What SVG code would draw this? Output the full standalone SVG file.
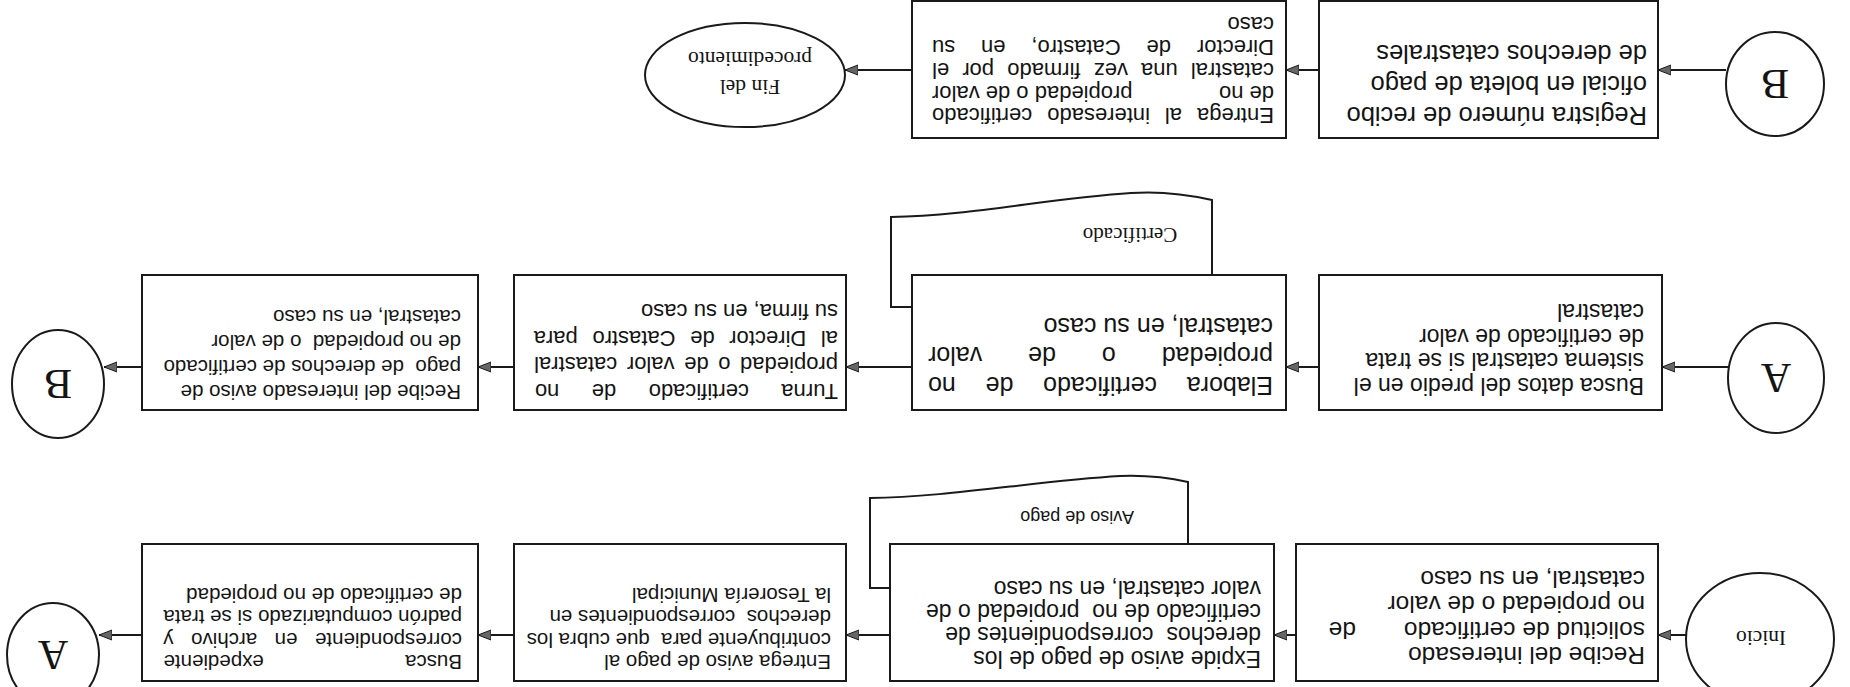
<svg xmlns="http://www.w3.org/2000/svg" width="1850" height="687" viewBox="0 0 1850 687">
<style>
.box{fill:#fff;stroke:#1a1a1a;stroke-width:2}
.doc{fill:#fff;stroke:#1a1a1a;stroke-width:2}
.term{fill:#fff;stroke:#1a1a1a;stroke-width:2}
.conn{stroke:#1a1a1a;stroke-width:2;fill:none;marker-end:url(#arr)}
.ts{font-family:"Liberation Sans",Arial,sans-serif;fill:#141414}
.tr{font-family:"Liberation Serif","Times New Roman",serif;fill:#141414}
.f20{font-size:20.5px}.f22{font-size:22px}.f23{font-size:23px}.f24{font-size:24.5px}.f25{font-size:25.5px}.f26{font-size:25px}
.lt{font-size:42px;text-anchor:middle}
.et{font-size:21.5px;text-anchor:middle}
</style>
<defs>
<marker id="arr" markerUnits="userSpaceOnUse" markerWidth="14" markerHeight="12" refX="13" refY="6" orient="auto">
<path d="M0,1 L13,6 L0,11 Z" fill="#666" stroke="#1a1a1a" stroke-width="1"/>
</marker>
</defs>
<rect width="1850" height="687" fill="#fff"/>
<g transform="rotate(180 925 343.5)">
<g id="connectors">
<line class="conn" x1="124" y1="617" x2="192" y2="617"/>
<line class="conn" x1="531" y1="617" x2="564" y2="617"/>
<line class="conn" x1="938" y1="617" x2="1005" y2="617"/>
<line class="conn" x1="122" y1="320" x2="188" y2="320"/>
<line class="conn" x1="531" y1="320" x2="564" y2="320"/>
<line class="conn" x1="938" y1="320" x2="1004" y2="320"/>
<line class="conn" x1="1336" y1="320" x2="1372" y2="320"/>
<line class="conn" x1="1708" y1="320" x2="1746" y2="320"/>
<line class="conn" x1="164" y1="52" x2="192" y2="52"/>
<line class="conn" x1="554" y1="52" x2="576" y2="52"/>
<line class="conn" x1="960" y1="52" x2="1004" y2="52"/>
<line class="conn" x1="1336" y1="52" x2="1372" y2="52"/>
<line class="conn" x1="1708" y1="52" x2="1751" y2="52"/>
</g>

<g id="inicio">
<ellipse class="term" cx="90" cy="48" rx="74" ry="66"/>
<text class="tr et" x="89" y="56">Inicio</text>
</g>

<g id="recibe-solicitud">
<rect class="box" x="192" y="6" width="362" height="137"/>
<text class="ts f24" x="205" y="40">Recibe del interesado</text>
<text class="ts f24" x="205" y="65.5">solicitud de certificado</text>
<text class="ts f24" x="494" y="65.5">de</text>
<text class="ts f24" x="205" y="91">no propiedad o de valor</text>
<text class="ts f24" x="205" y="116.5">catastral, en su caso</text>
</g>

<g id="aviso-pago-doc">
<path class="doc" d="M662,99 L662,205 C684,210 705,212 730,211 C815,206 900,190 980,189 L980,99 Z"/>
<text class="ts" x="716" y="176" font-size="18">Aviso de pago</text>
</g>

<g id="expide">
<rect class="box" x="576" y="6" width="384" height="137"/>
<text class="ts f23" x="589" y="36" xml:space="preserve">Expide aviso de pago de los</text>
<text class="ts f23" x="589" y="60" xml:space="preserve">derechos  correspondientes de</text>
<text class="ts f23" x="589" y="83" xml:space="preserve">certificado de no  propiedad o de</text>
<text class="ts f23" x="589" y="106" xml:space="preserve">valor catastral, en su caso</text>
</g>

<g id="entrega-aviso">
<rect class="box" x="1004" y="6" width="332" height="137"/>
<text class="ts f20" x="1019" y="32" xml:space="preserve">Entrega aviso de pago al</text>
<text class="ts f20" x="1019" y="54" xml:space="preserve">contribuyente para  que cubra los</text>
<text class="ts f20" x="1019" y="77" xml:space="preserve">derechos  correspondientes en</text>
<text class="ts f20" x="1019" y="99" xml:space="preserve">la Tesorería Municipal</text>
</g>

<g id="busca-expediente">
<rect class="box" x="1372" y="6" width="336" height="137"/>
<text class="ts f20" x="1388" y="32">Busca</text>
<text class="ts f20" x="1686.5" y="32" text-anchor="end">expediente</text>
<text class="ts f20" x="1388" y="54" word-spacing="11.8">correspondiente en archivo y</text>
<text class="ts f20" x="1388" y="77">padrón computarizado si se trata</text>
<text class="ts f20" x="1388" y="99">de certificado de no propiedad</text>
</g>

<g id="conector-a-1">
<ellipse class="term" cx="1797" cy="32" rx="46" ry="52"/>
<text class="tr lt" x="1797" y="46">A</text>
</g>

<g id="conector-a-2">
<ellipse class="term" cx="74" cy="309" rx="48" ry="55"/>
<text class="tr lt" x="74" y="323">A</text>
</g>

<g id="busca-datos">
<rect class="box" x="188" y="277" width="343" height="135"/>
<text class="ts f23" x="206" y="309.5">Busca datos del predio en el</text>
<text class="ts f23" x="206" y="334">sistema catastral si se trata</text>
<text class="ts f23" x="206" y="358.5">de certificado de valor</text>
<text class="ts f23" x="206" y="383">catastral</text>
</g>

<g id="certificado-doc">
<path class="doc" d="M638,380 L638,487 C664,493 690,496 719,494 C800,489 880,471 959,470 L959,380 Z"/>
<text class="tr" x="720" y="459" font-size="21" text-anchor="middle">Certificado</text>
</g>

<g id="elabora">
<rect class="box" x="564" y="277" width="374" height="135"/>
<text class="ts f26" x="577" y="310.5" word-spacing="22.8">Elabora certificado de no</text>
<text class="ts f26" x="577" y="340" word-spacing="39">propiedad o de valor</text>
<text class="ts f26" x="577" y="369.5">catastral, en su caso</text>
</g>

<g id="turna">
<rect class="box" x="1004" y="277" width="332" height="135"/>
<text class="ts f22" x="1012" y="303" word-spacing="26.3">Turna certificado de no</text>
<text class="ts f22" x="1012" y="330" word-spacing="3.5">propiedad o de valor catastral</text>
<text class="ts f22" x="1012" y="356" word-spacing="8.5">al Director de Catastro para</text>
<text class="ts f22" x="1012" y="383">su firma, en su caso</text>
</g>

<g id="recibe-aviso">
<rect class="box" x="1372" y="277" width="336" height="135"/>
<text class="ts f20" x="1389" y="302" xml:space="preserve">Recibe del interesado aviso de</text>
<text class="ts f20" x="1389" y="327" xml:space="preserve">pago  de derechos de certificado</text>
<text class="ts f20" x="1389" y="352" xml:space="preserve">de no propiedad  o de valor</text>
<text class="ts f20" x="1389" y="377" xml:space="preserve">catastral, en su caso</text>
</g>

<g id="conector-b-1">
<ellipse class="term" cx="1792" cy="303" rx="46" ry="54"/>
<text class="tr lt" x="1792" y="317">B</text>
</g>

<g id="conector-b-2">
<ellipse class="term" cx="75" cy="603" rx="49" ry="52"/>
<text class="tr lt" x="75" y="617">B</text>
</g>

<g id="registra">
<rect class="box" x="192" y="549" width="339" height="137"/>
<text class="ts f25" x="203" y="580">Registra número de recibo</text>
<text class="ts f25" x="203" y="611">oficial en boleta de pago</text>
<text class="ts f25" x="203" y="642">de derechos catastrales</text>
</g>

<g id="entrega-certificado">
<rect class="box" x="564" y="549" width="374" height="137"/>
<text class="ts f22" x="576" y="579" word-spacing="8.8">Entrega al interesado certificado</text>
<text class="ts f22" x="576" y="601.5">de no</text>
<text class="ts f22" x="918" y="601.5" text-anchor="end">propiedad o de valor</text>
<text class="ts f22" x="576" y="624.5" word-spacing="7">catastral una vez firmado por el</text>
<text class="ts f22" x="576" y="647.5" word-spacing="19.8">Director de Catastro, en su</text>
<text class="ts f22" x="576" y="670.5">caso</text>
</g>

<g id="fin">
<ellipse class="term" cx="1105" cy="612" rx="100" ry="52"/>
<text class="tr et" x="1100" y="607">Fin del</text>
<text class="tr et" x="1100" y="635">procedimiento</text>
</g>
</g>
</svg>
